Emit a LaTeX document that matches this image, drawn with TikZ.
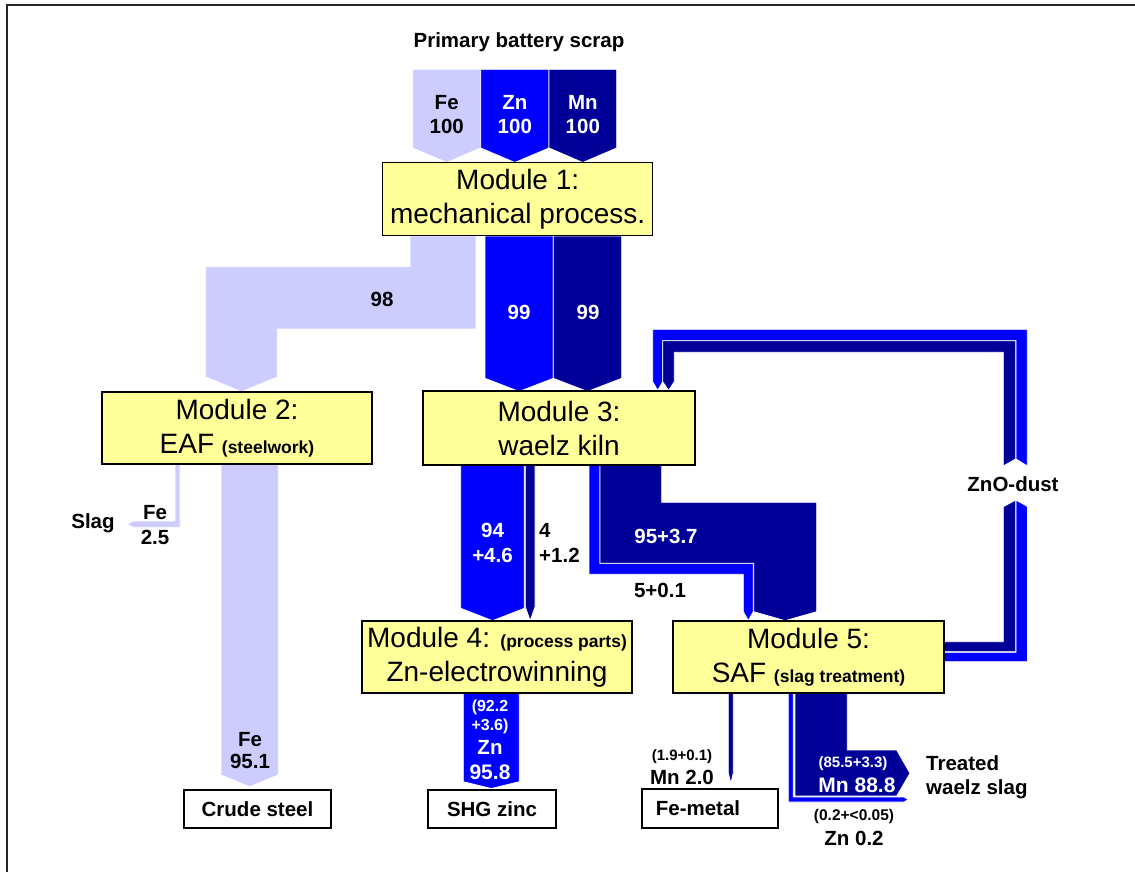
\documentclass[tikz,border=0pt]{standalone}
\usepackage{fontspec}
\setmainfont{Liberation Sans}
\definecolor{feC}{HTML}{CCCCFF}
\definecolor{znC}{HTML}{0000FF}
\definecolor{mnC}{HTML}{000099}
\definecolor{boxC}{HTML}{FFFF99}
\begin{document}
\begin{tikzpicture}[x=1pt,y=-1pt,
  flowfe/.style={fill=feC,draw=white,line width=0.8pt},
  flowzn/.style={fill=znC,draw=white,line width=0.8pt},
  flowmn/.style={fill=mnC,draw=white,line width=0.8pt},
  modbox/.style={draw=black,line width=1.3pt,fill=boxC,inner sep=0pt,align=center,font=\fontsize{28}{34}\selectfont},
  outbox/.style={draw=black,line width=1.2pt,fill=white,inner sep=0pt,align=center,font=\bfseries\fontsize{20.5}{24}\selectfont},
  lbl/.style={font=\bfseries\fontsize{20.5}{24}\selectfont,align=center,inner sep=0pt},
  wlbl/.style={lbl,text=white},
  smlbl/.style={font=\bfseries\fontsize{15.5}{19}\selectfont,align=center,inner sep=0pt},
  wsmlbl/.style={smlbl,text=white}
]
\useasboundingbox (0,0) rectangle (1135,872);
\fill[white] (0,0) rectangle (1135,872);
% frame
\draw[line width=2pt,black!85] (7,872) -- (7,5) -- (1135,5);

% ---- inputs to module 1
\path[flowfe] (412.7,69.3) -- (480.7,69.3) -- (480.7,148) -- (446.7,162.5) -- (412.7,148) -- cycle;
\path[flowzn] (480.7,69.3) -- (549,69.3) -- (549,148) -- (514.8,162.5) -- (480.7,148) -- cycle;
\path[flowmn] (549,69.3) -- (616.7,69.3) -- (616.7,148) -- (582.8,162.5) -- (549,148) -- cycle;

% ---- module 1 -> module 2 (Fe)
\path[flowfe] (410,236) -- (476,236) -- (476,329) -- (277.3,329) -- (277.3,377) -- (241.5,391.7) -- (205.7,377) -- (205.7,266.7) -- (410,266.7) -- cycle;
% ---- module 1 -> module 3 (Zn, Mn)
\path[flowzn] (485,236) -- (553.3,236) -- (553.3,378.3) -- (519.2,391.5) -- (485,378.3) -- cycle;
\path[flowmn] (553.3,236) -- (621.7,236) -- (621.7,378.3) -- (587.5,391.5) -- (553.3,378.3) -- cycle;

% ---- ZnO-dust loop (module 5 -> module 3)
\path[flowzn] (944,652.3) -- (1016,652.3) -- (1016,500) -- (1027.5,506.5) -- (1027.5,661.7) -- (944,661.7) -- cycle;
\path[flowmn] (944,641.7) -- (1003.3,641.7) -- (1003.3,506.7) -- (1015.7,500) -- (1015.7,651.7) -- (944,651.7) -- cycle;
\path[flowzn] (1016,459) -- (1027.3,466) -- (1027.3,329.3) -- (652.7,329.3) -- (652.7,381.7) -- (657.7,390.5) -- (662.7,381.7) -- (662.7,340.7) -- (1016,340.7) -- cycle;
\path[flowmn] (1003.3,466) -- (1015.7,459) -- (1015.7,340.7) -- (662.7,340.7) -- (662.7,381.7) -- (668.5,390.5) -- (674.3,381.7) -- (674.3,352.3) -- (1003.3,352.3) -- cycle;

% ---- module 3 -> module 5
\path[flowzn] (589,465) -- (600,465) -- (600,563.3) -- (753.3,563.3) -- (753.3,611.7) -- (748.3,620.5) -- (743.3,611.7) -- (743.3,574.3) -- (589,574.3) -- cycle;
\path[flowmn] (600,465) -- (661.7,465) -- (661.7,502.3) -- (816.7,502.3) -- (816.7,611.7) -- (785.2,620.7) -- (753.7,611.7) -- (753.7,563.3) -- (600,563.3) -- cycle;

% ---- module 3 -> module 4
\path[flowzn] (460.7,465) -- (524.3,465) -- (524.3,608.3) -- (492.5,620.7) -- (460.7,608.3) -- cycle;
\path[flowmn] (525.3,465) -- (535,465) -- (535,607) -- (530.2,620.7) -- (525.3,607) -- cycle;

% ---- module 2 outputs
\path[flowfe] (221,464) -- (278.3,464) -- (278.3,775) -- (249.7,786.7) -- (221,775) -- cycle;
\path[flowfe] (175,464) -- (180,464) -- (180,527.3) -- (133,527.3) -- (127,524.2) -- (133,521) -- (175,521) -- cycle;

% ---- module 4 output
\path[flowzn] (463.3,692.7) -- (519.3,692.7) -- (519.3,781.7) -- (491.3,788.5) -- (463.3,781.7) -- cycle;

% ---- module 5 outputs
\path[flowmn] (728.3,692.7) -- (733.3,692.7) -- (733.3,773) -- (730.8,783.3) -- (728.3,773) -- cycle;
\path[flowmn] (795,692.7) -- (847.3,692.7) -- (847.3,750) -- (896.7,750) -- (910,773.3) -- (896.7,796) -- (795,796) -- cycle;
\path[flowzn] (788.3,692.7) -- (793.3,692.7) -- (793.3,797) -- (904,797) -- (908.3,799.5) -- (904,802) -- (788.3,802) -- cycle;

% ---- boxes
\node[modbox,minimum width=270pt,minimum height=73pt] (m1) at (517.7,199.3) {Module 1:\\mechanical process.};
\node[modbox,minimum width=270pt,minimum height=72pt] (m2) at (237,428) {Module 2:\\EAF {\bfseries\fontsize{17.5}{18}\selectfont(steelwork)}};
\node[modbox,minimum width=272pt,minimum height=74pt] (m3) at (559,428) {Module 3:\\waelz kiln};
\node[modbox,minimum width=270pt,minimum height=72pt] (m4) at (497,657) {Module 4: {\bfseries\fontsize{17.5}{18}\selectfont(process parts)}\\Zn-electrowinning};
\node[modbox,minimum width=271pt,minimum height=72pt] (m5) at (808.5,657) {Module 5:\\SAF {\bfseries\fontsize{17.5}{18}\selectfont(slag treatment)}};
\node[outbox,minimum width=147pt,minimum height=38pt] (steel) at (257.5,809) {Crude steel};
\node[outbox,minimum width=128pt,minimum height=38pt] (shg) at (492,809) {SHG zinc};
\node[outbox,minimum width=136pt,minimum height=39pt] (femetal) at (710,808.5) {Fe-metal\hspace*{24pt}};

% ---- labels
\node[lbl] (title) at (519,42) {Primary battery scrap};
\node[lbl] (inFe) at (446.7,114.5) {Fe\\100};
\node[wlbl] (inZn) at (514.8,114.5) {Zn\\100};
\node[wlbl] (inMn) at (582.8,114.5) {Mn\\100};
\node[lbl] (l98) at (382,299) {98};
\node[wlbl] (l99a) at (519,312) {99};
\node[wlbl] (l99b) at (588,312) {99};
\node[wlbl,font=\bfseries\fontsize{20.5}{25}\selectfont] (l94) at (492.5,542.5) {94\\+4.6};
\node[lbl,anchor=west,align=left,font=\bfseries\fontsize{20.5}{25}\selectfont] (l4) at (539,542.5) {4\\+1.2};
\node[wlbl] (l95) at (666,536) {95+3.7};
\node[lbl] (l5) at (660,590) {5+0.1};
\node[lbl] (zno) at (1013,484) {ZnO-dust};
\node[lbl] (slag) at (93,523) {Slag};
\node[lbl,font=\bfseries\fontsize{20.5}{25}\selectfont] (slagfe) at (155,525.5) {Fe\\2.5};
\node[lbl,font=\bfseries\fontsize{20.5}{22}\selectfont] (fe951) at (250,751) {Fe\\95.1};
\node[wsmlbl,font=\bfseries\fontsize{16}{19}\selectfont] (zn922) at (490,716.5) {(92.2\\+3.6)};
\node[wlbl] (znlbl) at (490,747) {Zn};
\node[wlbl,font=\bfseries\fontsize{21}{24}\selectfont] (zn958) at (490,772.3) {95.8};
\node[smlbl,font=\bfseries\fontsize{15}{16}\selectfont] (mn19) at (682,757) {(1.9+0.1)};
\node[lbl] (mn20) at (682,777.5) {Mn 2.0};
\node[wsmlbl,font=\bfseries\fontsize{15}{16}\selectfont] (mn855) at (853,764) {(85.5+3.3)};
\node[wlbl,font=\bfseries\fontsize{21}{24}\selectfont] (mn888) at (857,785.5) {Mn 88.8};
\node[lbl,anchor=west,align=left] (treated) at (926,777.5) {Treated\\waelz slag};
\node[smlbl] (zn02s) at (854,816) {(0.2+<0.05)};
\node[lbl] (zn02) at (854,838.5) {Zn 0.2};
\end{tikzpicture}
\end{document}
